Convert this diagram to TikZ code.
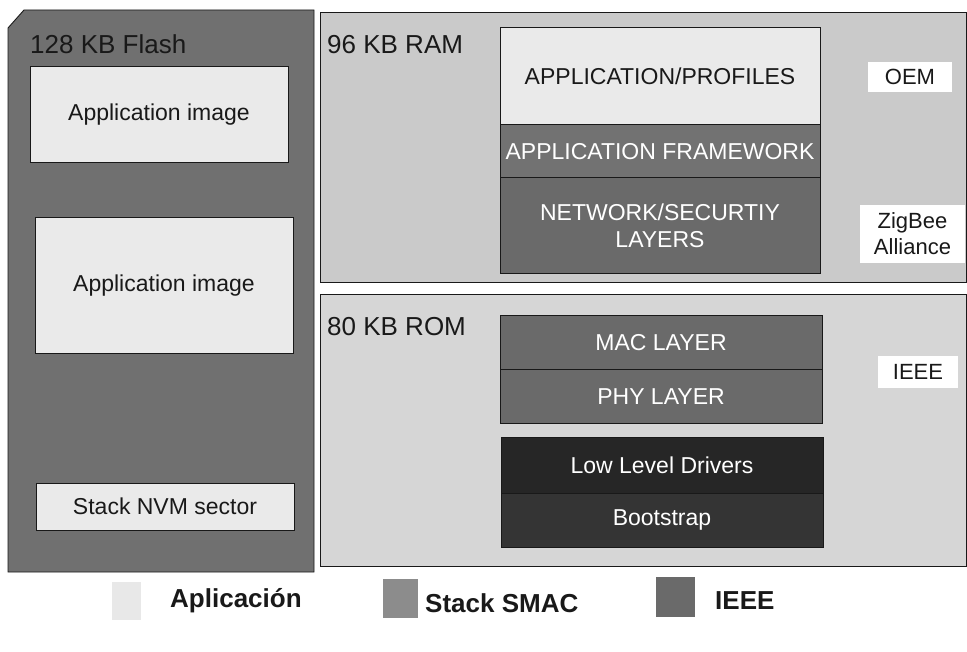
\documentclass[tikz,border=0pt]{standalone}
\usepackage{fontspec}
\setmainfont{Liberation Sans}
\definecolor{flashgray}{RGB}{112,112,112}
\definecolor{ramgray}{RGB}{202,202,202}
\definecolor{romgray}{RGB}{214,214,214}
\definecolor{appfill}{RGB}{234,234,234}
\definecolor{stackfill}{RGB}{114,114,114}
\definecolor{ieeefill}{RGB}{106,106,106}
\definecolor{drvfill}{RGB}{38,38,38}
\definecolor{bootfill}{RGB}{52,52,52}
\definecolor{legstack}{RGB}{140,140,140}
\definecolor{legapp}{RGB}{232,232,232}
\definecolor{inkdark}{RGB}{25,25,25}
\tikzset{
  panel/.style={draw=inkdark, line width=0.9pt, inner sep=0pt, outer sep=0pt, anchor=north west},
  layer/.style={draw=inkdark, line width=1pt, inner sep=0pt, outer sep=0pt,
                anchor=north west, align=center},
  tag/.style={fill=white, inner sep=0pt, outer sep=0pt, anchor=north west, align=center,
              text=inkdark, font=\fontsize{22}{26}\selectfont},
  title/.style={anchor=west, inner sep=0pt, text=inkdark, font=\fontsize{26}{30}\selectfont},
  midtext/.style={font=\fontsize{23}{27}\selectfont},
  legsq/.style={inner sep=0pt, outer sep=0pt, anchor=north west},
  legtext/.style={anchor=west, inner sep=0pt, text=inkdark, font=\bfseries\fontsize{26}{30}\selectfont}
}
\begin{document}
\begin{tikzpicture}[x=1pt,y=-1pt]
\useasboundingbox[fill=white] (0,0) rectangle (967,652);

% Flash memory column, with its clipped top-left corner
\coordinate (flash) at (8,10);
\draw[draw=inkdark, line width=0.9pt, fill=flashgray]
  (8,28) -- (24,10) -- (314,10) -- (314,572) -- (8,572) -- cycle;
\node[title] (flashT) at (30,44) {128 KB Flash};
\node[layer, fill=appfill, minimum width=258pt, minimum height=96pt, text=inkdark, midtext] (img1) at (30,67) {Application image};
\node[layer, fill=appfill, minimum width=258pt, minimum height=136pt, text=inkdark, midtext] (img2) at (35,218) {Application image};
\node[layer, fill=appfill, minimum width=258pt, minimum height=47pt, text=inkdark, midtext] (nvm) at (36,483) {Stack NVM sector};

% RAM block
\node[panel, fill=ramgray, minimum width=646pt, minimum height=270pt] (ram) at (320,12) {};
\node[title] (ramT) at (327,45) {96 KB RAM};
\node[layer, fill=appfill, minimum width=320pt, minimum height=97pt, text=inkdark, midtext] (prof) at (500,28) {APPLICATION/PROFILES};
\node[layer, fill=stackfill, minimum width=320pt, minimum height=53pt, text=white, midtext] (fw) at (500,125) {APPLICATION FRAMEWORK};
\node[layer, fill=ieeefill, minimum width=320pt, minimum height=96pt, text=white, midtext] (nwk) at (500,178) {NETWORK/SECURTIY\\LAYERS};
\node[tag, minimum width=84pt, minimum height=30pt] (oem) at (868,62) {OEM};
\node[tag, minimum width=105pt, minimum height=58pt] (zb) at (860,205) {ZigBee\\Alliance};

% ROM block
\node[panel, fill=romgray, minimum width=646pt, minimum height=272pt] (rom) at (320,294) {};
\node[title] (romT) at (327,327) {80 KB ROM};
\node[layer, fill=ieeefill, minimum width=322pt, minimum height=54pt, text=white, midtext] (mac) at (500,316) {MAC LAYER};
\node[layer, fill=ieeefill, minimum width=322pt, minimum height=53pt, text=white, midtext] (phy) at (500,370) {PHY LAYER};
\node[layer, fill=drvfill, minimum width=322pt, minimum height=56pt, text=white, midtext] (drv) at (501,437) {Low Level Drivers};
\node[layer, fill=bootfill, minimum width=322pt, minimum height=54pt, text=white, midtext] (boot) at (501,493) {Bootstrap};
\node[tag, minimum width=80pt, minimum height=32pt] (ieee) at (878,356) {IEEE};

% Legend
\node[legsq, fill=legapp, minimum width=29pt, minimum height=38pt] (lgA) at (112,582) {};
\node[legtext] (lgAt) at (170,601) {Aplicación};
\node[legsq, fill=legstack, minimum width=35pt, minimum height=39pt] (lgS) at (383,579) {};
\node[legtext] (lgSt) at (425,603) {Stack SMAC};
\node[legsq, fill=ieeefill, minimum width=39pt, minimum height=40pt] (lgI) at (656,577) {};
\node[legtext] (lgIt) at (715,601) {IEEE};
\end{tikzpicture}
\end{document}
